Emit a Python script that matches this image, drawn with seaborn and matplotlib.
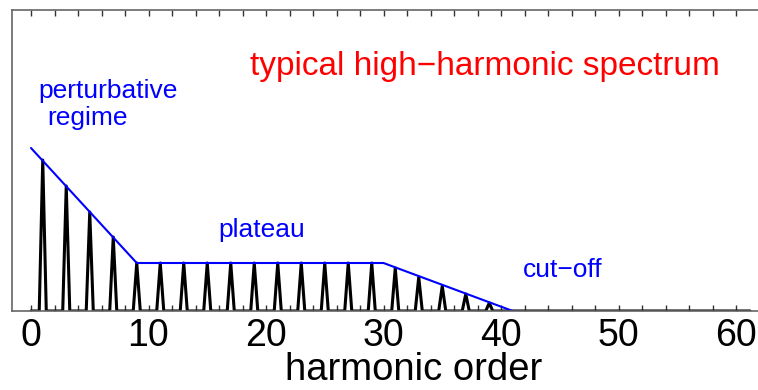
import numpy as np
import pandas as pd
import matplotlib
matplotlib.use("Agg")
import matplotlib.pyplot as plt
from matplotlib.ticker import MultipleLocator
import seaborn as sns

# Odd harmonic orders and their peak heights
orders = [1, 3, 5, 7, 9, 11, 13, 15, 17, 19, 21, 23, 25, 27, 29, 31, 33, 35, 37, 39]
heights = [151, 125, 99, 74, 48, 48, 48, 48, 48, 48, 48, 48, 48, 48, 48, 43, 34, 25, 17, 8]

# Envelope: perturbative fall-off, plateau, cut-off
env_x = [0, 9, 30, 41]
env_y = [163, 48, 48, 0]

x_ticks = [0, 10, 20, 30, 40, 50, 60]

# Build the spectrum trace: flat baseline with a narrow spike at each harmonic
half_w = 0.3
xs, ys = [0.0], [0.0]
for h, a in zip(orders, heights):
    xs += [h - half_w, h, h + half_w]
    ys += [0.0, a, 0.0]
xs.append(61.2)
ys.append(0.0)
spec = pd.DataFrame({"order": xs, "intensity": ys})
env = pd.DataFrame({"order": env_x, "intensity": env_y})

sns.set_theme(style="white")
plt.rcParams["font.family"] = ["Liberation Sans", "DejaVu Sans"]

fig = plt.figure(figsize=(7.58, 3.90), dpi=100)
ax = fig.add_axes([12 / 758, 1 - 311 / 390, 746 / 758, 301 / 390])

sns.lineplot(data=spec, x="order", y="intensity", sort=False, estimator=None,
             color="black", linewidth=2.2, ax=ax)
sns.lineplot(data=env, x="order", y="intensity", sort=False, estimator=None,
             color="#0000ff", linewidth=1.5, ax=ax)

ax.set_xlim((12 - 31) / 11.75, (758 - 31) / 11.75)
ax.set_ylim(0, 301)

ax.xaxis.set_major_locator(MultipleLocator(10))
ax.xaxis.set_minor_locator(MultipleLocator(2))
ax.set_xticks(x_ticks)
ax.set_yticks([])
ax.tick_params(axis="x", which="both", direction="in", length=4, width=1,
               color="#333333", top=True, bottom=True, labelsize=27, pad=5)
ax.tick_params(axis="x", which="major", labelcolor="black")

for side in ["left", "top", "bottom"]:
    ax.spines[side].set_color("#666666")
    ax.spines[side].set_linewidth(1.2)
ax.spines["right"].set_visible(False)

ax.set_ylabel("")
ax.set_xlabel("harmonic order", fontsize=27.5, labelpad=0, color="black")
ax.xaxis.set_label_coords((414 - 12) / 746, -0.135)

ax.text((250 - 31) / 11.75, 236, "typical high\u2212harmonic spectrum",
        color="#ff0000", fontsize=24, va="baseline", ha="left")
ax.text((38 - 31) / 11.75, 213, "perturbative", color="#0000ff",
        fontsize=19, va="baseline", ha="left")
ax.text((47 - 31) / 11.75, 186, "regime", color="#0000ff",
        fontsize=19, va="baseline", ha="left")
ax.text((218 - 31) / 11.75, 74, "plateau", color="#0000ff",
        fontsize=19, va="baseline", ha="left")
ax.text((523 - 31) / 11.75, 34, "cut\u2212off", color="#0000ff",
        fontsize=19, va="baseline", ha="left")

fig.savefig("out.png", dpi=100)
